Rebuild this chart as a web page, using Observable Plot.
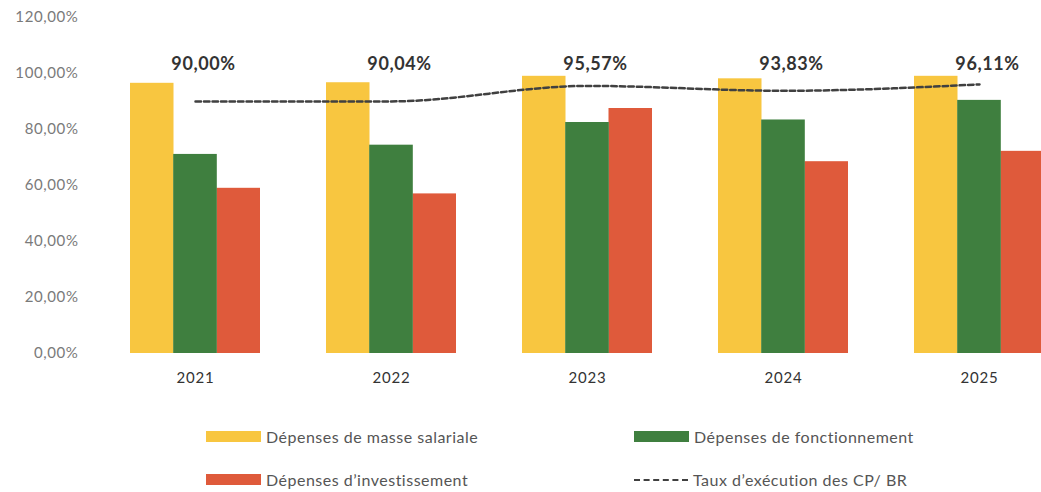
<!DOCTYPE html>
<html>
<head>
<meta charset="utf-8">
<script src="https://cdn.jsdelivr.net/npm/d3@7"></script>
<script src="https://cdn.jsdelivr.net/npm/@observablehq/plot@0.6"></script>
<style>
  html, body { margin: 0; padding: 0; background: #fff; }
  body { width: 1041px; height: 492px; overflow: hidden; font-family: Lato, "Open Sans", sans-serif; }
  #legend { position: relative; width: 1041px; height: 92px; }
  .item { position: absolute; display: flex; align-items: center; font-size: 16px; letter-spacing: 0.5px; color: #555; white-space: nowrap; }
  .sw { width: 55px; height: 11px; margin-right: 5px; }
  .dash { width: 54px; height: 0; border-top: 2.5px dashed #404040; margin-right: 5px; }
  #chart svg g[aria-label="y-axis tick label"] text { letter-spacing: 0.6px; }
  #chart svg g[aria-label="x-axis tick label"] text { letter-spacing: 0.8px; }
  #chart svg g[aria-label="text"] text { letter-spacing: 0.6px; }
</style>
</head>
<body>
<div id="chart"></div>
<div id="legend"></div>
<script>
const years = ["2021", "2022", "2023", "2024", "2025"];
const masseSalariale = [96.5, 96.7, 99.0, 98.1, 99.0];
const fonctionnement = [71.1, 74.4, 82.5, 83.4, 90.4];
const investissement = [59.0, 57.0, 87.5, 68.5, 72.2];
const tauxExecution = [90.00, 90.04, 95.57, 93.83, 96.11];
const yTicks = [0, 20, 40, 60, 80, 100, 120];

const seriesNames = ["Dépenses de masse salariale", "Dépenses de fonctionnement", "Dépenses d’investissement"];
const seriesColors = ["#F8C640", "#3F7F3F", "#DF5A3B"];
const lineName = "Taux d’exécution des CP/ BR";

const frNum = d => d3.format(".2f")(d).replace(".", ",") + "%";

const rows = (vals) => years.map((y, i) => ({year: y, value: vals[i]}));
const lineData = years.map((y, i) => ({year: y, value: tauxExecution[i]}));

const plot = Plot.plot({
  width: 1041,
  height: 400,
  marginTop: 17,
  marginBottom: 47,
  marginLeft: 96,
  marginRight: 0,
  style: { fontFamily: "Lato, 'Open Sans', sans-serif", background: "#fff" },
  x: { type: "band", domain: years, range: [96.3, 1078.3], paddingInner: 0.3355, paddingOuter: 0.1678, label: null },
  y: { domain: [0, 120], label: null },
  marks: [
    Plot.barY(rows(masseSalariale), { x: "year", y: "value", fill: seriesColors[0], insetRight: 86.5 }),
    Plot.barY(rows(investissement), { x: "year", y: "value", fill: seriesColors[2], insetLeft: 86.5 }),
    Plot.barY(rows(fonctionnement), { x: "year", y: "value", fill: seriesColors[1], insetLeft: 43.2, insetRight: 43.2 }),
    Plot.line(lineData, { x: "year", y: "value", stroke: "#404040", strokeWidth: 2.5, strokeDasharray: "5.5,3", curve: "monotone-x" }),
    Plot.text(lineData, { x: "year", text: d => frNum(d.value), frameAnchor: "top", dy: 40, dx: 8, fontSize: 18, fontWeight: "bold", fill: "#333" }),
    Plot.axisY({ ticks: yTicks, tickFormat: frNum, tickSize: 0, tickPadding: 18, fontSize: 15, fill: "#7a7a7a" }),
    Plot.axisX({ tickSize: 0, tickPadding: 19, fontSize: 15, fill: "#333" })
  ]
});
document.getElementById("chart").appendChild(plot);

const legend = document.getElementById("legend");
const items = [
  { label: seriesNames[0], color: seriesColors[0], left: 206, top: 27 },
  { label: seriesNames[1], color: seriesColors[1], left: 634, top: 27 },
  { label: seriesNames[2], color: seriesColors[2], left: 206, top: 70 },
  { label: lineName, color: null, left: 634, top: 70 }
];
for (const it of items) {
  const d = document.createElement("div");
  d.className = "item";
  d.style.left = it.left + "px";
  d.style.top = it.top + "px";
  const s = document.createElement("span");
  if (it.color) { s.className = "sw"; s.style.background = it.color; }
  else { s.className = "dash"; }
  d.appendChild(s);
  const t = document.createElement("span");
  t.textContent = it.label;
  d.appendChild(t);
  legend.appendChild(d);
}
</script>
</body>
</html>
